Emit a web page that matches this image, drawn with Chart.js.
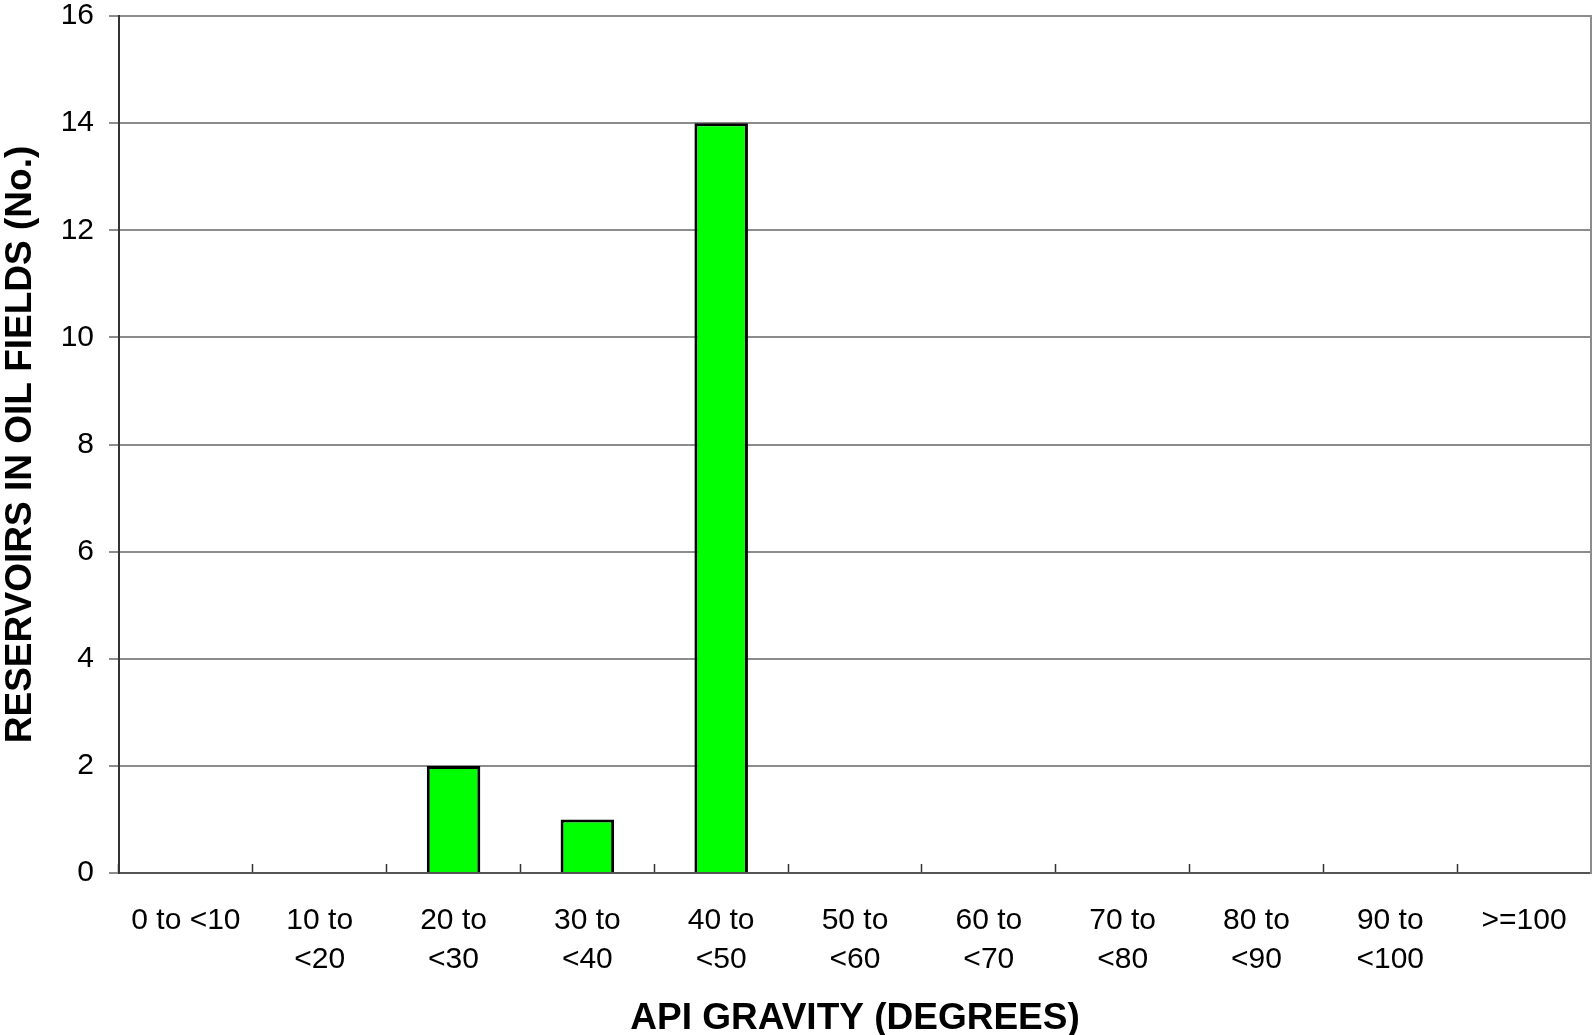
<!DOCTYPE html>
<html lang="en">
<head>
    <meta charset="UTF-8">
    <title>API Gravity</title>
    <style>
        body {
            margin: 0;
            background-color: #ffffff;
        }
        .container {
            width: 1592px;
            height: 1035px;
        }
    </style>
</head>
<body>
    <div class="container">
        <canvas id="gravityChart" width="1592" height="1035"></canvas>
    </div>
    <script src="https://cdn.jsdelivr.net/npm/chart.js"></script>
    <script>
        // categories and counts
        const categories = [
            '0 to <10', ['10 to', '<20'], ['20 to', '<30'], ['30 to', '<40'], ['40 to', '<50'],
            ['50 to', '<60'], ['60 to', '<70'], ['70 to', '<80'], ['80 to', '<90'], ['90 to', '<100'], '>=100'
        ];
        const reservoirCounts = [0, 0, 2, 1, 14, 0, 0, 0, 0, 0, 0];
        const yTicks = [0, 2, 4, 6, 8, 10, 12, 14, 16];

        Chart.defaults.font.family = "'Liberation Sans', Arial, sans-serif";
        Chart.defaults.color = '#000000';

        const ctx = document.getElementById('gravityChart').getContext('2d');

        const chart = new Chart(ctx, {
            type: 'bar',
            data: {
                labels: categories,
                datasets: [{
                    label: 'Reservoirs',
                    data: reservoirCounts,
                    backgroundColor: '#00ff00',
                    borderColor: '#000000',
                    borderWidth: 3,
                    barPercentage: 0.4,
                    categoryPercentage: 1.0
                }]
            },
            options: {
                responsive: false,
                animation: false,
                layout: {
                    padding: { top: 16, right: 1, left: 0, bottom: 0 }
                },
                plugins: {
                    legend: { display: false },
                    tooltip: { enabled: false }
                },
                scales: {
                    x: {
                        grid: {
                            offset: true,
                            drawOnChartArea: false,
                            drawTicks: true,
                            tickLength: -9,
                            tickColor: '#333333',
                            tickWidth: 1.5
                        },
                        border: { color: '#555555', width: 2 },
                        ticks: {
                            autoSkip: false,
                            maxRotation: 0,
                            padding: 37,
                            font: { size: 30, lineHeight: 1.3 }
                        },
                        title: {
                            display: true,
                            text: 'API GRAVITY (DEGREES)',
                            font: { size: 37, weight: 'bold', lineHeight: 0.9 },
                            padding: 0
                        },
                        afterFit: function (scale) {
                            scale.height = 162;
                            scale.paddingLeft = 0;
                            scale.paddingRight = 0;
                        }
                    },
                    y: {
                        min: 0,
                        max: 16,
                        afterBuildTicks: function (scale) {
                            scale.ticks = yTicks.map(v => ({ value: v }));
                        },
                        grid: {
                            color: '#8c8c8c',
                            lineWidth: 2,
                            tickLength: 10
                        },
                        border: { color: '#333333', width: 2 },
                        ticks: {
                            padding: 15,
                            font: { size: 30 }
                        },
                        title: {
                            display: true,
                            text: 'RESERVOIRS IN OIL FIELDS (No.)',
                            font: { size: 37, weight: 'bold', lineHeight: 1.1 },
                            padding: 0
                        },
                        afterFit: function (scale) {
                            scale.width = 119;
                            scale.paddingTop = 0;
                            scale.paddingBottom = 0;
                        }
                    },
                    yRight: {
                        position: 'right',
                        min: 0,
                        max: 16,
                        grid: { drawOnChartArea: false, drawTicks: false },
                        ticks: { display: false },
                        border: { color: '#8c8c8c', width: 2 },
                        afterFit: function (scale) {
                            scale.width = 0;
                            scale.paddingTop = 0;
                            scale.paddingBottom = 0;
                        }
                    }
                }
            }
        });
    </script>
</body>
</html>
